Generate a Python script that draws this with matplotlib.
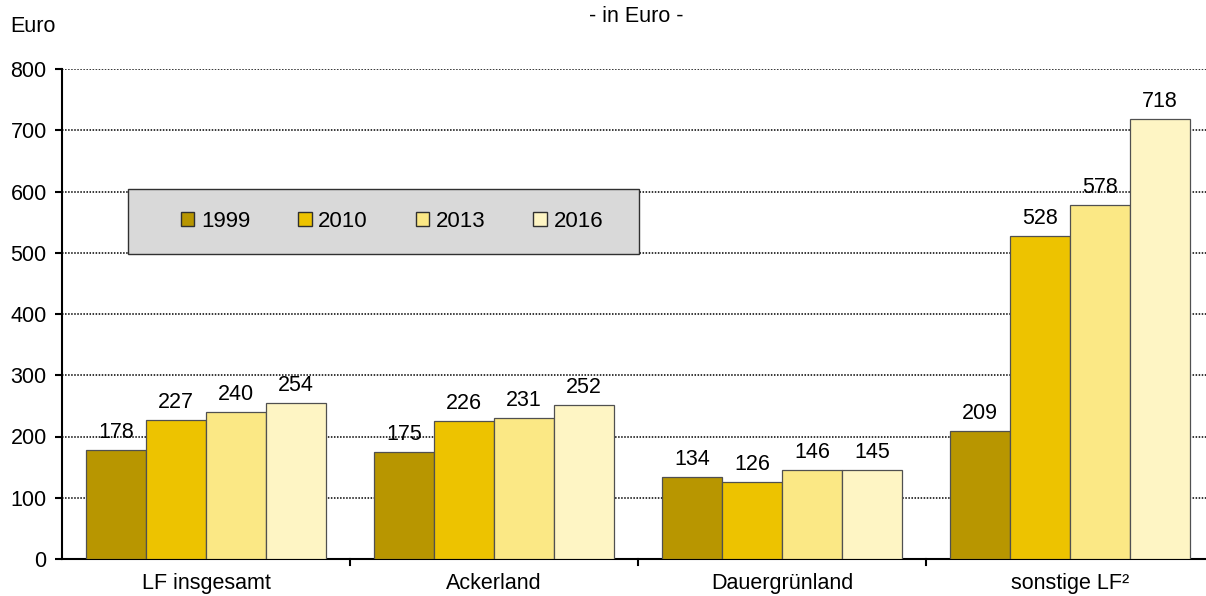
import numpy as np
import matplotlib.pyplot as plt
from matplotlib.patches import Patch, Rectangle

plt.rcParams['font.family'] = ['Liberation Sans', 'DejaVu Sans']

categories = ["LF insgesamt", "Ackerland", "Dauergrünland", "sonstige LF²"]
years = ["1999", "2010", "2013", "2016"]
v1999 = [178, 175, 134, 209]
v2010 = [227, 226, 126, 528]
v2013 = [240, 231, 146, 578]
v2016 = [254, 252, 145, 718]
colors = ["#b89600", "#edc300", "#fbe885", "#fef5c4"]

FS = 15.5
W, H = 1206, 596
fig = plt.figure(figsize=(W / 100, H / 100), dpi=100)
ax = fig.add_axes([62 / W, (H - 559) / H, 1152 / W, 490 / H])

series = [v1999, v2010, v2013, v2016]
x = np.arange(len(categories))
bw = 60 / 288
for i, (vals, col) in enumerate(zip(series, colors)):
    pos = x + (i - 1.5) * bw
    ax.bar(pos, vals, width=bw, color=col, edgecolor="#505050", linewidth=0.9, zorder=3)
    for p, v in zip(pos, vals):
        ax.annotate(str(v), (p, v), xytext=(0, 5), textcoords="offset points",
                    ha="center", va="bottom", fontsize=FS, zorder=4)

ax.set_xlim(-0.5, len(categories) - 0.5)
ax.set_ylim(0, 800)
ax.set_yticks(range(0, 801, 100))
ax.tick_params(axis="y", labelsize=FS, length=5, width=1.5, direction="out", pad=6)
ax.yaxis.grid(True, linestyle=(0, (1, 1)), color="black", linewidth=1.1, zorder=0)
ax.set_axisbelow(True)

ax.set_xticks(x)
ax.set_xticklabels(categories, fontsize=FS)
ax.tick_params(axis="x", length=0, pad=10)
for b in np.arange(0.5, len(categories) - 1, 1.0):
    ax.plot([b, b], [0, -0.013], transform=ax.get_xaxis_transform(), color="black",
            lw=1.5, clip_on=False)

for s in ["top", "right"]:
    ax.spines[s].set_visible(False)
ax.spines["left"].set_linewidth(1.5)
ax.spines["bottom"].set_linewidth(1.5)

# legend box
fig.patches.append(Rectangle((128 / W, (H - 254) / H), 511 / W, 65 / H,
                             transform=fig.transFigure, facecolor="#d9d9d9",
                             edgecolor="#303030", linewidth=1.0, zorder=5))
handles = [Patch(facecolor=c, edgecolor="#303030", label=y) for c, y in zip(colors, years)]
leg = fig.legend(handles=handles, loc="center", ncol=4, fontsize=FS + 0.5,
                 bbox_to_anchor=(172 / W, (H - 254) / H, 440 / W, 65 / H),
                 mode="expand", frameon=False, handlelength=0.6,
                 handleheight=0.6, handletextpad=0.3, borderaxespad=0)
leg.set_zorder(6)

fig.text(10 / W, 1 - 27 / H, "Euro", fontsize=FS, ha="left", va="center")
fig.text(636 / W, 1 - 17 / H, "- in Euro -", fontsize=FS, ha="center", va="center")

fig.savefig("out.png", dpi=100)
